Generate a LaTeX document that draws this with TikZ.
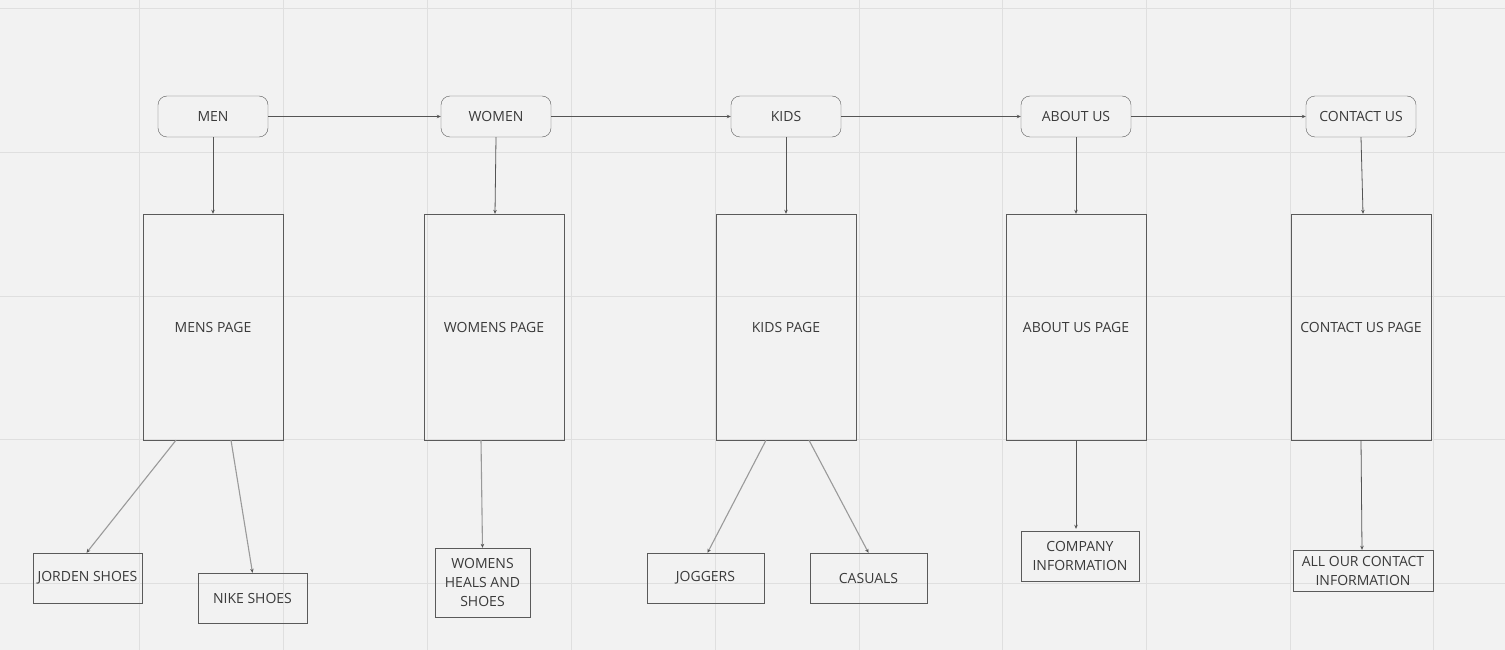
\documentclass[tikz,border=0pt]{standalone}
\usepackage{fontspec}
\setmainfont{Open Sans}
\usetikzlibrary{calc,arrows.meta}
\definecolor{bg}{HTML}{F2F2F2}
\definecolor{gridc}{HTML}{DFDFDF}
\definecolor{boxc}{HTML}{5A5A5A}
\definecolor{txt}{HTML}{3A3A3A}
\definecolor{lnc}{HTML}{555555}
\definecolor{lnl}{HTML}{9A9A9A}
\tikzset{
  x=1pt,y=-1pt,
  navbox/.style={draw=boxc,rounded corners=9pt,minimum width=110pt,minimum height=41pt,inner sep=0pt,font=\fontsize{14}{17}\selectfont,text=txt},
  pagebox/.style={draw=boxc,minimum width=140pt,minimum height=226pt,inner sep=0pt,font=\fontsize{14}{17}\selectfont,text=txt},
  leafbox/.style={draw=boxc,inner sep=0pt,font=\fontsize{14}{19}\selectfont,text=txt,align=center},
  conn/.style={draw=lnc,line width=0.8pt,-{Stealth[length=4pt,width=3.5pt]}},
  connl/.style={draw=lnl,line width=1.1pt,-{Stealth[length=4pt,width=3.5pt,color=lnc]}}
}
\begin{document}
\begin{tikzpicture}
\fill[bg] (0,0) rectangle (1505,650);
\useasboundingbox (0,0) rectangle (1505,650);
\foreach \gx in {139,283,427,571,715,859,1002,1146,1290,1433} {\draw[gridc,line width=0.8pt] (\gx,0) -- (\gx,650);}
\foreach \gy in {8,152,296,439,583} {\draw[gridc,line width=0.8pt] (0,\gy) -- (1505,\gy);}

\node[navbox] (men) at (213,116.5) {MEN};
\node[navbox] (women) at (496,116.5) {WOMEN};
\node[navbox] (kids) at (786,116.5) {KIDS};
\node[navbox] (about) at (1076,116.5) {ABOUT US};
\node[navbox] (contact) at (1361,116.5) {CONTACT US};

\node[pagebox] (mens) at (213,327) {MENS PAGE};
\node[pagebox] (womens) at (494,327) {WOMENS PAGE};
\node[pagebox] (kidsp) at (786,327) {KIDS PAGE};
\node[pagebox] (aboutp) at (1076,327) {ABOUT US PAGE};
\node[pagebox] (contactp) at (1361,327) {CONTACT US PAGE};

\node[leafbox,minimum width=109pt,minimum height=50pt] (jorden) at (87.5,578) {JORDEN SHOES};
\node[leafbox,minimum width=109pt,minimum height=50pt] (nike) at (252.5,598) {NIKE SHOES};
\node[leafbox,minimum width=95pt,minimum height=69pt] (heals) at (482.5,582.5) {WOMENS\\HEALS AND\\SHOES};
\node[leafbox,minimum width=117pt,minimum height=50pt] (joggers) at (705.5,578) {JOGGERS};
\node[leafbox,minimum width=117pt,minimum height=50pt] (casuals) at (868.5,578) {CASUALS};
\node[leafbox,minimum width=118pt,minimum height=50pt] (company) at (1080,556) {COMPANY\\INFORMATION};
\node[leafbox,minimum width=140pt,minimum height=41pt] (allour) at (1363,570.5) {ALL OUR CONTACT\\INFORMATION};

\draw[conn] (men.east) -- (women.west);
\draw[conn] (women.east) -- (kids.west);
\draw[conn] (kids.east) -- (about.west);
\draw[conn] (about.east) -- (contact.west);

\draw[conn] (men.south) -- (mens.north);
\draw[conn] (women.south) -- ($(womens.north)+(1,0)$);
\draw[conn] (kids.south) -- (kidsp.north);
\draw[conn] (about.south) -- (aboutp.north);
\draw[conn] (contact.south) -- ($(contactp.north)+(2,0)$);

\draw[connl] ($(mens.south)+(-37,0)$) -- ($(jorden.north)+(-1,0)$);
\draw[connl] ($(mens.south)+(18,0)$) -- (nike.north);
\draw[connl] ($(womens.south)+(-13,0)$) -- (heals.north);
\draw[connl] ($(kidsp.south)+(-20,0)$) -- ($(joggers.north)+(2,0)$);
\draw[connl] ($(kidsp.south)+(23,0)$) -- (casuals.north);
\draw[conn] (aboutp.south) -- ($(company.north)+(-4,-2)$);
\draw[conn] (contactp.south) -- ($(allour.north)+(-1,0)$);
\end{tikzpicture}
\end{document}
